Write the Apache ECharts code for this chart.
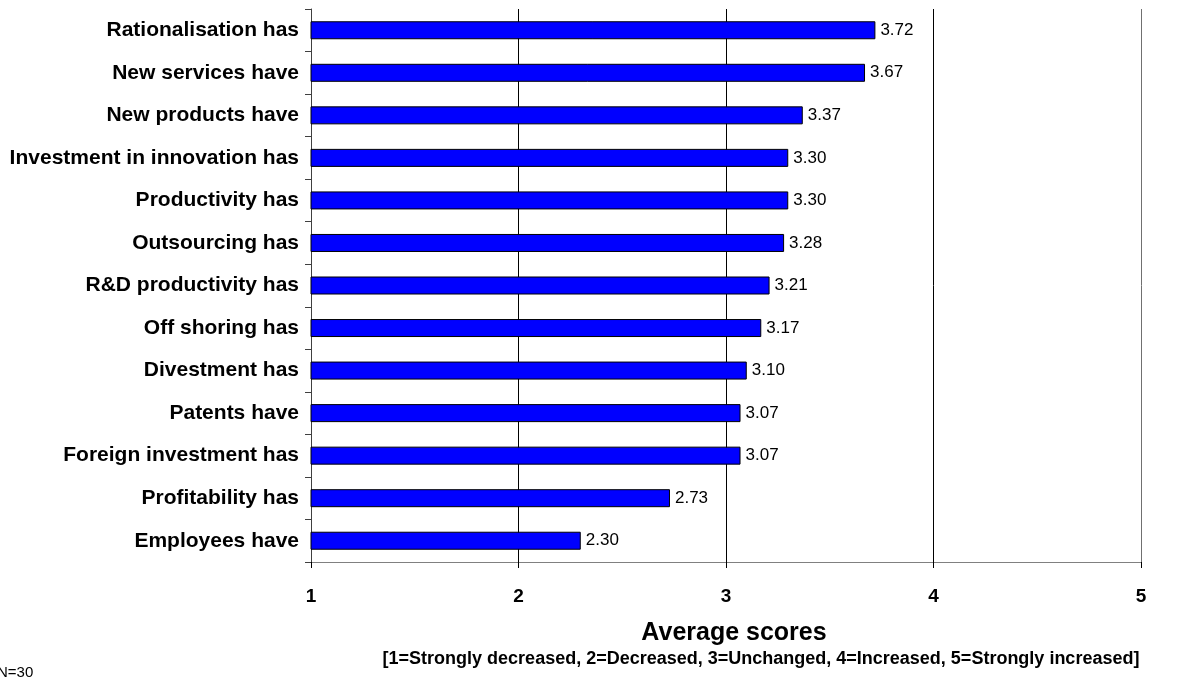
<!DOCTYPE html>
<html>
<head>
<meta charset="utf-8">
<script src="https://cdn.jsdelivr.net/npm/echarts@6/dist/echarts.min.js"></script>
<style>
  html, body { margin: 0; padding: 0; background: #fff; }
  #chart { width: 1204px; height: 678px; }
</style>
</head>
<body>
<div id="chart"></div>
<script>
// Survey items, listed top to bottom
const categories = [
  'Rationalisation has',
  'New services have',
  'New products have',
  'Investment in innovation has',
  'Productivity has',
  'Outsourcing has',
  'R&D productivity has',
  'Off shoring has',
  'Divestment has',
  'Patents have',
  'Foreign investment has',
  'Profitability has',
  'Employees have'
];

// Average score for each item
const scores = [3.72, 3.67, 3.37, 3.30, 3.30, 3.28, 3.21, 3.17, 3.10, 3.07, 3.07, 2.73, 2.30];

// Scale ticks on the score axis
const scaleTicks = [1, 2, 3, 4, 5];

const axisTitle = 'Average scores';
const axisSubtitle = '[1=Strongly decreased, 2=Decreased, 3=Unchanged, 4=Increased, 5=Strongly increased]';
const sampleNote = 'N=30';

const font = 'Arial, "Liberation Sans", Helvetica, sans-serif';

const chart = echarts.init(document.getElementById('chart'), null, { renderer: 'canvas' });

chart.setOption({
  animation: false,
  backgroundColor: '#ffffff',
  grid: { left: 311, right: 63, top: 9, bottom: 116, containLabel: false },
  xAxis: {
    type: 'value',
    min: scaleTicks[0],
    max: scaleTicks[scaleTicks.length - 1],
    interval: 1,
    axisLine: { show: true, lineStyle: { color: '#808080', width: 1 } },
    axisTick: { show: true, length: 6, lineStyle: { color: '#000' } },
    axisLabel: {
      margin: 25,
      fontFamily: font, fontSize: 19, fontWeight: 'bold', color: '#000'
    },
    splitLine: {
      show: true,
      lineStyle: { color: ['#000', '#000', '#000', '#000', '#707070'], width: 1 }
    }
  },
  yAxis: {
    type: 'category',
    data: categories,
    inverse: true,
    axisLine: { show: true, lineStyle: { color: '#404040', width: 1 } },
    axisTick: { show: true, length: 6, lineStyle: { color: '#404040' } },
    axisLabel: {
      margin: 12,
      fontFamily: font, fontSize: 21, fontWeight: 'bold', color: '#000'
    },
    splitLine: { show: false }
  },
  series: [{
    type: 'bar',
    data: scores,
    barWidth: 18,
    itemStyle: { color: '#0000ff', borderColor: '#000', borderWidth: 1 },
    label: {
      show: true,
      position: 'right',
      distance: 5,
      fontFamily: font, fontSize: 17, color: '#000',
      formatter: p => p.value.toFixed(2)
    }
  }],
  graphic: [
    {
      type: 'text',
      x: 734, y: 633,
      style: {
        text: axisTitle, fontFamily: font, fontSize: 25, fontWeight: 'bold',
        fill: '#000', textAlign: 'center', textVerticalAlign: 'middle'
      }
    },
    {
      type: 'text',
      x: 761, y: 659,
      style: {
        text: axisSubtitle, fontFamily: font, fontSize: 18, fontWeight: 'bold',
        fill: '#000', textAlign: 'center', textVerticalAlign: 'middle'
      }
    },
    {
      type: 'text',
      x: -3, y: 673,
      style: {
        text: sampleNote, fontFamily: font, fontSize: 15,
        fill: '#000', textAlign: 'left', textVerticalAlign: 'middle'
      }
    }
  ]
});
</script>
</body>
</html>
